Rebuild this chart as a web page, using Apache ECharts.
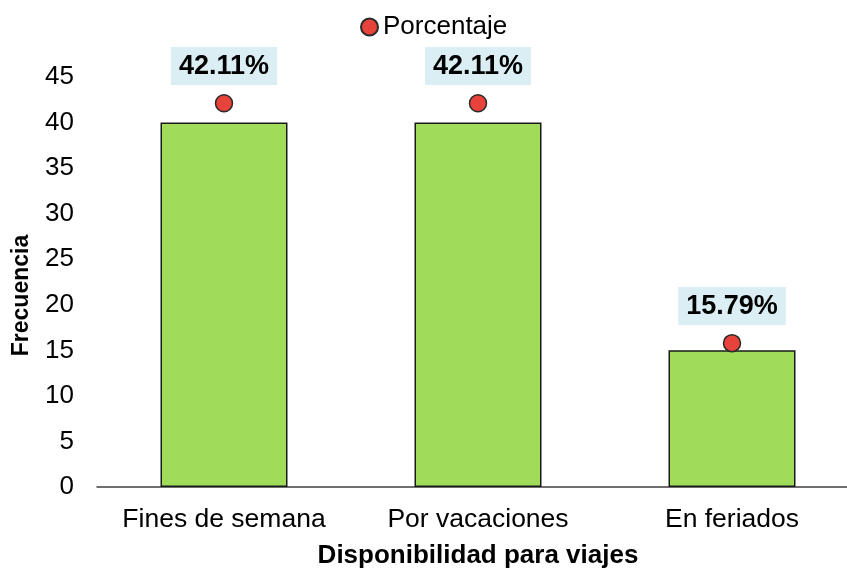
<!DOCTYPE html>
<html>
<head>
<meta charset="utf-8">
<script src="https://cdn.jsdelivr.net/npm/echarts@6/dist/echarts.min.js"></script>
<style>
  html, body { margin: 0; padding: 0; background: #fff; overflow: hidden; }
  #chart { width: 860px; height: 574px; }
</style>
</head>
<body>
<div id="chart"></div>
<script>
// Categories and values
const categories = ['Fines de semana', 'Por vacaciones', 'En feriados'];
const frecuencia = [40, 40, 15];
const porcentaje = [42.11, 42.11, 15.79];
const yTicks = { min: 0, max: 45, interval: 5 };

const FONT = 'Liberation Sans, Arial, sans-serif';

const chart = echarts.init(document.getElementById('chart'), null, { renderer: 'canvas' });

chart.setOption({
  animation: false,
  backgroundColor: '#ffffff',
  textStyle: { fontFamily: FONT },
  legend: {
    data: ['Porcentaje'],
    left: 355,
    top: 9,
    icon: 'circle',
    itemWidth: 17,
    itemHeight: 17,
    textStyle: { fontFamily: FONT, fontSize: 26, color: '#000' }
  },
  grid: {
    left: 97,
    top: 77,
    width: 762,
    height: 413,
    containLabel: false
  },
  xAxis: {
    type: 'category',
    data: categories,
    boundaryGap: true,
    name: 'Disponibilidad para viajes',
    nameLocation: 'middle',
    nameGap: 56,
    nameTextStyle: { fontFamily: FONT, fontSize: 26, fontWeight: 'bold', color: '#000' },
    axisLine: { show: true, lineStyle: { color: '#404040', width: 1.5 } },
    axisTick: { show: false },
    axisLabel: { interval: 0, margin: 19, fontFamily: FONT, fontSize: 26.5, color: '#000' }
  },
  yAxis: {
    type: 'value',
    min: yTicks.min,
    max: yTicks.max,
    interval: yTicks.interval,
    name: 'Frecuencia',
    nameLocation: 'middle',
    nameGap: 64,
    nameTextStyle: { fontFamily: FONT, fontSize: 23, fontWeight: 'bold', color: '#000', padding: [0, 27, 0, 0] },
    axisLine: { show: false },
    axisTick: { show: false },
    splitLine: { show: false },
    axisLabel: { margin: 23, fontFamily: FONT, fontSize: 26, color: '#000' }
  },
  series: [
    {
      name: 'Frecuencia',
      type: 'bar',
      data: frecuencia,
      barWidth: '50%',
      itemStyle: { color: '#A0DC5A', borderColor: '#1a1a1a', borderWidth: 1.5 }
    },
    {
      name: 'Porcentaje',
      type: 'scatter',
      data: porcentaje,
      symbol: 'circle',
      symbolSize: 17,
      itemStyle: { color: '#E8433A', borderColor: '#2a2a2a', borderWidth: 1.5, opacity: 1 },
      label: {
        show: true,
        position: 'top',
        distance: 9,
        formatter: p => p.value.toFixed(2) + '%',
        fontFamily: FONT,
        fontSize: 27,
        fontWeight: 'bold',
        color: '#000',
        backgroundColor: '#DAEEF3',
        padding: [6, 8, 5, 8]
      },
      z: 3
    }
  ]
});
</script>
</body>
</html>
